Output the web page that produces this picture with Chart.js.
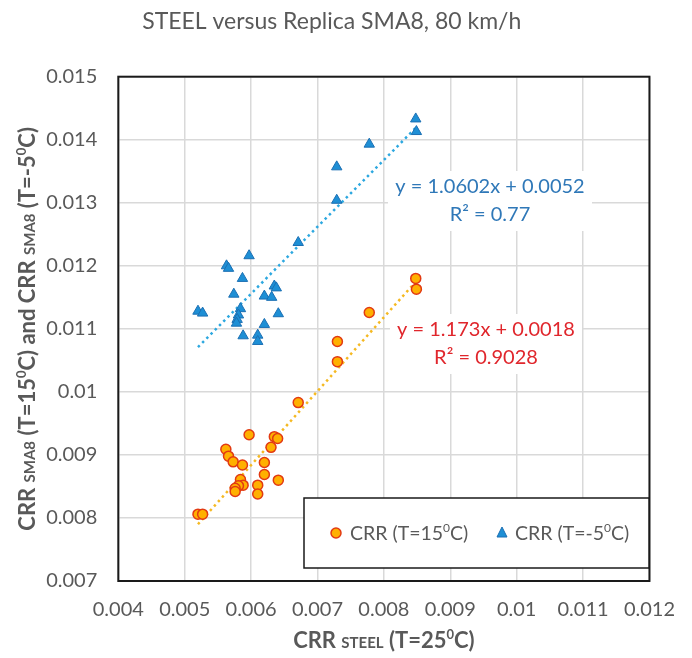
<!DOCTYPE html>
<html>
<head>
<meta charset="utf-8">
<script src="https://cdn.jsdelivr.net/npm/chart.js@4"></script>
<style>
html, body { margin: 0; padding: 0; background: #fff; }
#wrap { width: 692px; height: 658px; position: relative; }
</style>
</head>
<body>
<div id="wrap"><canvas id="crr"></canvas></div>
<script>
// CRR values (x = steel drum, y = replica SMA8)
const steelWarm = [0.00848, 0.00849, 0.00778, 0.00730, 0.00730, 0.00671, 0.00597, 0.00635, 0.00640, 0.00630, 0.00562, 0.00566, 0.00573,
    0.00587, 0.00620, 0.00620, 0.00641, 0.00584, 0.00588, 0.00581, 0.00576, 0.00576, 0.00610, 0.00610, 0.00520, 0.00527];
const smaWarm = [0.01180, 0.01163, 0.01126, 0.01080, 0.01048, 0.00983, 0.00932, 0.00929, 0.00926, 0.00912, 0.00909, 0.00898, 0.00889,
    0.00884, 0.00888, 0.00869, 0.00860, 0.00861, 0.00852, 0.00851, 0.00847, 0.00842, 0.00852, 0.00838, 0.00806, 0.00806];

const steelCold = [0.00848, 0.00849, 0.00778, 0.00729, 0.00729, 0.00671, 0.00597, 0.00563, 0.00566, 0.00587, 0.00635, 0.00638, 0.00574,
    0.00620, 0.00631, 0.00520, 0.00527, 0.00584, 0.00581, 0.00579, 0.00578, 0.00641, 0.00620, 0.00588, 0.00610, 0.00610];
const smaCold = [0.01433, 0.01413, 0.01393, 0.01357, 0.01304, 0.01237, 0.01216, 0.01200, 0.01196, 0.01180, 0.01168, 0.01165, 0.01155,
    0.01152, 0.01150, 0.01128, 0.01125, 0.01132, 0.01122, 0.01115, 0.01109, 0.01124, 0.01107, 0.01089, 0.01090, 0.01080];

// trendline end points
const fitWarmX = [0.0052, 0.0085];
const fitWarmY = [0.00790, 0.01177];
const fitColdX = [0.0052, 0.0085];
const fitColdY = [0.01071, 0.01421];

const xTickLabels = ['0.004', '0.005', '0.006', '0.007', '0.008', '0.009', '0.01', '0.011', '0.012'];
const yTickLabels = ['0.007', '0.008', '0.009', '0.01', '0.011', '0.012', '0.013', '0.014', '0.015'];

const titleText = 'STEEL versus Replica SMA8, 80 km/h';
const eqCold = ['y = 1.0602x + 0.0052', 'R² = 0.77'];
const eqWarm = ['y = 1.173x + 0.0018', 'R² = 0.9028'];

const FONT = 'Lato, "Open Sans", sans-serif';
const GREY = '#595959';

function pts(xs, ys) {
    return xs.map((x, i) => ({ x: x, y: ys[i] }));
}

function f(size, bold) {
    return (bold ? 'bold ' : '') + size + 'px ' + FONT;
}

// draws text made of pieces with different sizes (small caps, superscript)
function drawRuns(ctx, runs, x, y, align) {
    let w = 0;
    runs.forEach(r => { ctx.font = r.font; w += ctx.measureText(r.t).width; });
    let cx = align === 'left' ? x : x - w / 2;
    ctx.textAlign = 'left';
    ctx.textBaseline = 'alphabetic';
    runs.forEach(r => {
        ctx.font = r.font;
        ctx.fillText(r.t, cx, y - (r.rise || 0));
        cx += ctx.measureText(r.t).width;
    });
}

const extras = {
    id: 'extras',
    beforeDatasetsDraw(chart) {
        const ctx = chart.ctx;
        const a = chart.chartArea;
        ctx.save();
        // plot frame
        ctx.strokeStyle = '#1a1a1a';
        ctx.lineWidth = 2;
        ctx.strokeRect(a.left, a.top, a.right - a.left, a.bottom - a.top);

        // trendline equations
        function label(lines, cx, cy, color, boxW) {
            ctx.fillStyle = '#ffffff';
            ctx.fillRect(cx - boxW / 2, cy - 16, boxW, 60);
            ctx.fillStyle = color;
            ctx.font = f(20, false);
            ctx.textAlign = 'center';
            ctx.textBaseline = 'middle';
            ctx.fillText(lines[0], cx, cy);
            ctx.fillText(lines[1], cx, cy + 28);
        }
        label(eqCold, 490, 187, '#2f78b8', 204);
        label(eqWarm, 486, 330, '#e0262c', 192);
        ctx.restore();
    },
    afterDraw(chart) {
        const ctx = chart.ctx;
        const a = chart.chartArea;
        ctx.save();

        // legend box
        ctx.fillStyle = '#ffffff';
        ctx.fillRect(304, 498, 345, 70);
        ctx.strokeStyle = '#1a1a1a';
        ctx.lineWidth = 1.5;
        ctx.strokeRect(304, 498, 345, 70);

        const d0 = chart.data.datasets[0];
        const d1 = chart.data.datasets[1];
        ctx.fillStyle = d0.backgroundColor;
        ctx.strokeStyle = d0.borderColor;
        ctx.lineWidth = d0.borderWidth;
        ctx.beginPath();
        ctx.arc(336, 533, 5, 0, Math.PI * 2);
        ctx.fill();
        ctx.stroke();

        ctx.fillStyle = d1.backgroundColor;
        ctx.strokeStyle = d1.borderColor;
        ctx.lineWidth = d1.borderWidth;
        ctx.beginPath();
        ctx.moveTo(502, 527);
        ctx.lineTo(507, 537);
        ctx.lineTo(497, 537);
        ctx.closePath();
        ctx.fill();
        ctx.stroke();

        ctx.fillStyle = GREY;
        drawRuns(ctx, [
            { t: 'CRR (T=15', font: f(19.5, false) },
            { t: '0', font: f(12, false), rise: 8 },
            { t: 'C)', font: f(19.5, false) }
        ], 350, 540, 'left');
        drawRuns(ctx, [
            { t: 'CRR (T=-5', font: f(19.5, false) },
            { t: '0', font: f(12, false), rise: 8 },
            { t: 'C)', font: f(19.5, false) }
        ], 515, 540, 'left');

        // axis titles
        ctx.fillStyle = GREY;
        drawRuns(ctx, [
            { t: 'CRR ', font: f(22, true) },
            { t: 'STEEL', font: f(15, true) },
            { t: ' (T=25', font: f(22, true) },
            { t: '0', font: f(13, true), rise: 9 },
            { t: 'C)', font: f(22, true) }
        ], (a.left + a.right) / 2, 648);

        ctx.translate(35, (a.top + a.bottom) / 2);
        ctx.rotate(-Math.PI / 2);
        drawRuns(ctx, [
            { t: 'CRR ', font: f(22, true) },
            { t: 'SMA8', font: f(15, true) },
            { t: ' (T=15', font: f(22, true) },
            { t: '0', font: f(13, true), rise: 9 },
            { t: 'C) and CRR ', font: f(22, true) },
            { t: 'SMA8', font: f(15, true) },
            { t: ' (T=-5', font: f(22, true) },
            { t: '0', font: f(13, true), rise: 9 },
            { t: 'C)', font: f(22, true) }
        ], 0, 0);
        ctx.restore();
    }
};

const crr_ctx = document.getElementById('crr');

let crr = new Chart(crr_ctx, {
    type: 'scatter',
    data: {
        datasets: [{
            label: 'CRR (T=15°C)',
            data: pts(steelWarm, smaWarm),
            pointStyle: 'circle',
            pointRadius: 5,
            backgroundColor: '#ffb000',
            borderColor: '#e23a12',
            borderWidth: 1.5,
            order: 0,
        },
        {
            label: 'CRR (T=-5°C)',
            data: pts(steelCold, smaCold),
            pointStyle: 'triangle',
            pointRadius: 6,
            backgroundColor: '#1e8fd5',
            borderColor: '#1b6fb3',
            borderWidth: 1,
            order: 0,
        },
        {
            label: 'fit 15',
            type: 'line',
            data: pts(fitWarmX, fitWarmY),
            borderColor: '#f5b922',
            borderWidth: 2.5,
            borderDash: [2.5, 3.5],
            pointRadius: 0,
            fill: false,
            order: 1,
        },
        {
            label: 'fit -5',
            type: 'line',
            data: pts(fitColdX, fitColdY),
            borderColor: '#2da8e0',
            borderWidth: 2.5,
            borderDash: [2.5, 3.5],
            pointRadius: 0,
            fill: false,
            order: 1,
        }]
    },
    options: {
        responsive: true,
        maintainAspectRatio: false,
        animation: {
            duration: 0,
        },
        layout: {
            padding: { left: 0, right: 28.5, top: 0, bottom: 0 }
        },
        plugins: {
            legend: { display: false },
            tooltip: { enabled: false },
            title: {
                display: true,
                text: titleText,
                color: GREY,
                font: { family: FONT, size: 23, weight: 'normal' },
                padding: { top: 8, bottom: 41.1 },
            },
        },
        scales: {
            x: {
                type: 'linear',
                min: 0.004,
                max: 0.012,
                ticks: {
                    stepSize: 0.001,
                    color: GREY,
                    font: { family: FONT, size: 20 },
                    padding: 17,
                    maxRotation: 0,
                    callback: (v, i) => xTickLabels[i],
                },
                grid: { color: '#d9d9d9', lineWidth: 1.5, drawTicks: false },
                border: { display: false },
                afterFit: (s) => { s.height = 77; },
            },
            y: {
                type: 'linear',
                min: 0.007,
                max: 0.015,
                ticks: {
                    stepSize: 0.001,
                    color: GREY,
                    font: { family: FONT, size: 20 },
                    padding: 21,
                    callback: (v, i) => yTickLabels[i],
                },
                grid: { color: '#d9d9d9', lineWidth: 1.5, drawTicks: false },
                border: { display: false },
                afterFit: (s) => { s.width = 118.3; },
            }
        }
    },
    plugins: [extras]
});
</script>
</body>
</html>
